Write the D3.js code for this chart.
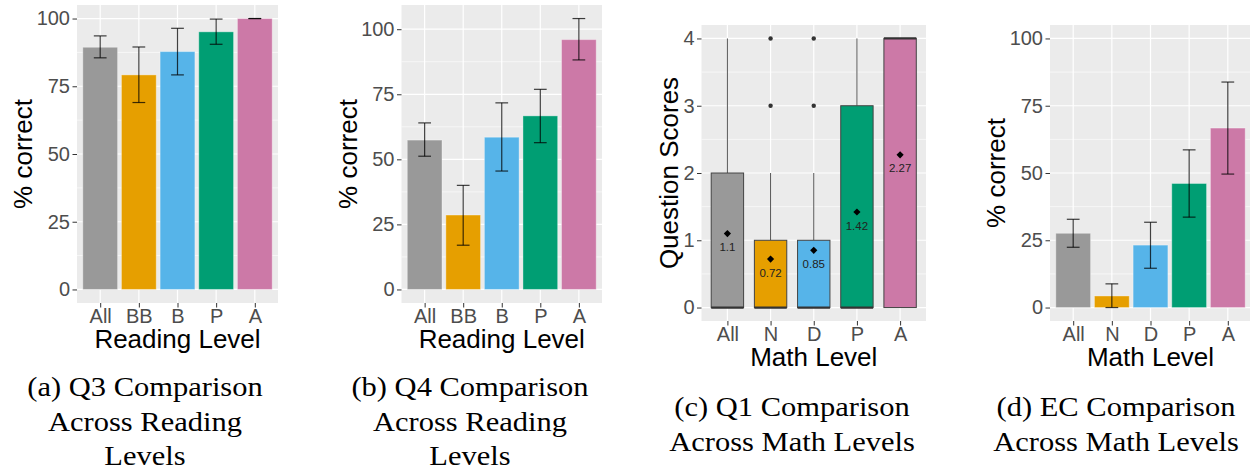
<!DOCTYPE html>
<html>
<head>
<meta charset="utf-8">
<script src="https://cdn.jsdelivr.net/npm/d3@7"></script>
<style>
  html, body { margin: 0; padding: 0; background: #ffffff; }
  svg { display: block; }
</style>
</head>
<body>
<svg id="fig" width="1250" height="471"></svg>
<script>
// ---- data ----
const readingLevels = ["All", "BB", "B", "P", "A"];
const mathLevels = ["All", "N", "D", "P", "A"];
const levelColors = ["#999999", "#E69F00", "#56B4E9", "#009E73", "#CC79A7"];

const pctTicks = [0, 25, 50, 75, 100];
const scoreTicks = [0, 1, 2, 3, 4];

// Q3 % correct by reading level, with error bar bounds
const q3Pct = [89.4, 79.2, 87.8, 95.1, 100];
const q3Lo = [85.5, 69.0, 79.2, 90.5, 100];
const q3Hi = [93.6, 89.5, 96.4, 99.8, 100];

// Q4 % correct by reading level
const q4Pct = [57.4, 28.6, 58.5, 66.7, 96.0];
const q4Lo = [51.2, 17.0, 45.5, 56.4, 88.2];
const q4Hi = [64.0, 40.0, 71.7, 76.9, 104.1];

// Q1 score distribution by math level (box plot)
const q1Lower = [0, 0, 0, 0, 0];
const q1Q1 = [0, 0, 0, 0, 0];
const q1Median = [0, 0, 0, 0, 4];
const q1Q3 = [2, 1, 1, 3, 4];
const q1Upper = [4, 2, 2, 4, 4];
const q1Outliers = [[], [3, 4], [3, 4], [], []];
const q1Mean = [1.1, 0.72, 0.85, 1.42, 2.27];

// EC % correct by math level
const ecPct = [27.6, 4.3, 23.2, 46.1, 66.7];
const ecLo = [22.4, 0.0, 14.6, 33.6, 49.6];
const ecHi = [32.8, 8.8, 31.7, 58.6, 83.8];

// ---- layout ----
const svg = d3.select("#fig");
const SANS = "'Liberation Sans', Arial, Helvetica, sans-serif";
const SERIF = "'Liberation Serif', 'Times New Roman', serif";

function expand(lo, hi) {
  const pad = (hi - lo) * 0.05;
  return [lo - pad, hi + pad];
}

function panelFrame(cfg) {
  const g = svg.append("g");
  const x = d3.scalePoint().domain(cfg.cats).range([cfg.x0, cfg.x1]).padding(0.6);
  const y = d3.scaleLinear().domain(cfg.domain).range([cfg.y1, cfg.y0]);

  // background
  g.append("rect")
    .attr("x", cfg.x0).attr("y", cfg.y0)
    .attr("width", cfg.x1 - cfg.x0).attr("height", cfg.y1 - cfg.y0)
    .attr("fill", "#EBEBEB");

  // minor horizontal grid
  const minor = [];
  for (let i = 0; i < cfg.ticks.length - 1; i++) minor.push((cfg.ticks[i] + cfg.ticks[i + 1]) / 2);
  const step = cfg.ticks[1] - cfg.ticks[0];
  const lastMinor = cfg.ticks[cfg.ticks.length - 1] + step / 2;
  if (lastMinor < cfg.domain[1]) minor.push(lastMinor);
  g.selectAll(".minor").data(minor).join("line")
    .attr("x1", cfg.x0).attr("x2", cfg.x1)
    .attr("y1", d => y(d)).attr("y2", d => y(d))
    .attr("stroke", "#ffffff").attr("stroke-width", 0.6);

  // major horizontal grid
  g.selectAll(".majorY").data(cfg.ticks).join("line")
    .attr("x1", cfg.x0).attr("x2", cfg.x1)
    .attr("y1", d => y(d)).attr("y2", d => y(d))
    .attr("stroke", "#ffffff").attr("stroke-width", 1.2);

  // major vertical grid
  g.selectAll(".majorX").data(cfg.cats).join("line")
    .attr("x1", d => x(d)).attr("x2", d => x(d))
    .attr("y1", cfg.y0).attr("y2", cfg.y1)
    .attr("stroke", "#ffffff").attr("stroke-width", 1.2);

  return { g, x, y };
}

function panelAxes(cfg, sc) {
  const g = svg.append("g");
  const yAxis = d3.axisLeft(sc.y).tickValues(cfg.ticks).tickFormat(d3.format("d"))
    .tickSize(4.5).tickPadding(2.5);
  const ya = g.append("g").attr("transform", `translate(${cfg.x0},0)`).call(yAxis);
  ya.select(".domain").remove();
  ya.selectAll(".tick line").attr("stroke", "#333333").attr("stroke-width", 1);
  ya.selectAll(".tick text")
    .attr("fill", "#4D4D4D").attr("font-family", SANS).attr("font-size", 20);

  const xAxis = d3.axisBottom(sc.x).tickSize(4.5).tickPadding(3);
  const xa = g.append("g").attr("transform", `translate(0,${cfg.y1})`).call(xAxis);
  xa.select(".domain").remove();
  xa.selectAll(".tick line").attr("stroke", "#333333").attr("stroke-width", 1);
  xa.selectAll(".tick text")
    .attr("fill", "#4D4D4D").attr("font-family", SANS).attr("font-size", 20)
    .attr("dy", null).attr("y", 19.5).attr("dominant-baseline", "alphabetic");

  g.append("text")
    .attr("x", (cfg.x0 + cfg.x1) / 2).attr("y", cfg.y1 + 44.5)
    .attr("text-anchor", "middle")
    .attr("font-family", SANS).attr("font-size", 26).attr("fill", "#000")
    .text(cfg.xTitle);

  g.append("text")
    .attr("transform", `translate(${cfg.yTitleX},${(cfg.y0 + cfg.y1) / 2}) rotate(-90)`)
    .attr("text-anchor", "middle")
    .attr("font-family", SANS).attr("font-size", 26).attr("fill", "#000")
    .text(cfg.yTitle);
}

function barPanel(cfg, vals, lo, hi) {
  const sc = panelFrame(cfg);
  const step = sc.x.step();
  const bw = step * 0.9;
  const data = cfg.cats.map((c, i) => ({ c, v: vals[i], lo: lo[i], hi: hi[i], col: levelColors[i] }));

  sc.g.selectAll(".bar").data(data).join("rect")
    .attr("x", d => sc.x(d.c) - bw / 2)
    .attr("width", bw)
    .attr("y", d => sc.y(d.v))
    .attr("height", d => sc.y(0) - sc.y(d.v))
    .attr("fill", d => d.col)
    .attr("stroke", "#ffffff").attr("stroke-opacity", 0.35).attr("stroke-width", 1);

  const cw = step * 0.33;
  const eb = sc.g.selectAll(".err").data(data).join("g")
    .attr("stroke", "#000").attr("stroke-opacity", 0.75).attr("stroke-width", 1.2).attr("fill", "none");
  eb.append("line")
    .attr("x1", d => sc.x(d.c)).attr("x2", d => sc.x(d.c))
    .attr("y1", d => sc.y(d.lo)).attr("y2", d => sc.y(d.hi));
  eb.append("line")
    .attr("x1", d => sc.x(d.c) - cw / 2).attr("x2", d => sc.x(d.c) + cw / 2)
    .attr("y1", d => sc.y(d.lo)).attr("y2", d => sc.y(d.lo));
  eb.append("line")
    .attr("x1", d => sc.x(d.c) - cw / 2).attr("x2", d => sc.x(d.c) + cw / 2)
    .attr("y1", d => sc.y(d.hi)).attr("y2", d => sc.y(d.hi));

  panelAxes(cfg, sc);
}

function boxPanel(cfg) {
  const sc = panelFrame(cfg);
  const step = sc.x.step();
  const bw = step * 0.75;
  const data = cfg.cats.map((c, i) => ({
    c, lower: q1Lower[i], q1: q1Q1[i], med: q1Median[i], q3: q1Q3[i], upper: q1Upper[i],
    out: q1Outliers[i], mean: q1Mean[i], col: levelColors[i]
  }));

  const b = sc.g.selectAll(".box").data(data).join("g");
  // whiskers
  b.append("line")
    .attr("x1", d => sc.x(d.c)).attr("x2", d => sc.x(d.c))
    .attr("y1", d => sc.y(d.q3)).attr("y2", d => sc.y(d.upper))
    .attr("stroke", "#555555").attr("stroke-width", 1);
  b.append("line")
    .attr("x1", d => sc.x(d.c)).attr("x2", d => sc.x(d.c))
    .attr("y1", d => sc.y(d.lower)).attr("y2", d => sc.y(d.q1))
    .attr("stroke", "#555555").attr("stroke-width", 1);
  // box
  b.append("rect")
    .attr("x", d => sc.x(d.c) - bw / 2).attr("width", bw)
    .attr("y", d => sc.y(d.q3)).attr("height", d => sc.y(d.q1) - sc.y(d.q3))
    .attr("fill", d => d.col)
    .attr("stroke", "#444444").attr("stroke-width", 1);
  // median
  b.append("line")
    .attr("x1", d => sc.x(d.c) - bw / 2).attr("x2", d => sc.x(d.c) + bw / 2)
    .attr("y1", d => sc.y(d.med)).attr("y2", d => sc.y(d.med))
    .attr("stroke", "#333333").attr("stroke-width", 2.2);
  // outliers
  b.selectAll(".out").data(d => d.out.map(v => ({ c: d.c, v }))).join("circle")
    .attr("cx", d => sc.x(d.c)).attr("cy", d => sc.y(d.v)).attr("r", 2.2)
    .attr("fill", "#333333");
  // mean marker and label
  const diamond = d3.symbol().type(d3.symbolSquare).size(26);
  b.append("path")
    .attr("d", diamond())
    .attr("transform", d => `translate(${sc.x(d.c)},${sc.y(d.mean)}) rotate(45)`)
    .attr("fill", "#000");
  b.append("text")
    .attr("x", d => sc.x(d.c)).attr("y", d => sc.y(d.mean) + 17.5)
    .attr("text-anchor", "middle")
    .attr("font-family", SANS).attr("font-size", 11.5).attr("fill", "#222222")
    .text(d => String(d.mean));

  panelAxes(cfg, sc);
}

// (a) Q3 across reading levels
barPanel({
  cats: readingLevels, x0: 77, x1: 278, y0: 5, y1: 303,
  domain: expand(0, 100), ticks: pctTicks,
  xTitle: "Reading Level", yTitle: "% correct", yTitleX: 32
}, q3Pct, q3Lo, q3Hi);

// (b) Q4 across reading levels
barPanel({
  cats: readingLevels, x0: 401.5, x1: 602, y0: 5, y1: 303,
  domain: expand(0, d3.max(q4Hi)), ticks: pctTicks,
  xTitle: "Reading Level", yTitle: "% correct", yTitleX: 357
}, q4Pct, q4Lo, q4Hi);

// (c) Q1 scores across math levels
boxPanel({
  cats: mathLevels, x0: 701.5, x1: 926, y0: 25, y1: 321,
  domain: expand(0, d3.max(q1Upper)), ticks: scoreTicks,
  xTitle: "Math Level", yTitle: "Question Scores", yTitleX: 678
});

// (d) EC across math levels
barPanel({
  cats: mathLevels, x0: 1050, x1: 1251, y0: 25, y1: 321,
  domain: expand(0, 100), ticks: pctTicks,
  xTitle: "Math Level", yTitle: "% correct", yTitleX: 1005
}, ecPct, ecLo, ecHi);

// ---- sub-figure captions ----
const captions = [
  { cx: 145, y: 396, lines: ["(a) Q3 Comparison", "Across Reading", "Levels"] },
  { cx: 470, y: 396, lines: ["(b) Q4 Comparison", "Across Reading", "Levels"] },
  { cx: 792, y: 416, lines: ["(c) Q1 Comparison", "Across Math Levels"] },
  { cx: 1116, y: 416, lines: ["(d) EC Comparison", "Across Math Levels"] }
];
captions.forEach(cap => {
  cap.lines.forEach((t, i) => {
    svg.append("text")
      .attr("transform", `translate(${cap.cx},${cap.y + i * 34.5}) scale(1.13,1)`)
      .attr("text-anchor", "middle")
      .attr("font-family", SERIF).attr("font-size", 27).attr("fill", "#000")
      .text(t);
  });
});
</script>
</body>
</html>
